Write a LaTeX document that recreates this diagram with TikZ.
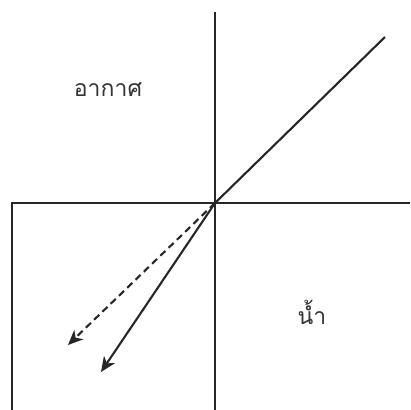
\documentclass[tikz,border=0pt]{standalone}
\usepackage{fontspec}
\newfontfamily\thaifont[Script=Thai]{Loma}
\usetikzlibrary{arrows.meta,positioning}

\begin{document}
\begin{tikzpicture}[
  x=1pt, y=-1pt,
  line/.style={line width=2.1pt, draw=black!85},
  ray/.style={-{Stealth[length=15pt,width=13pt,inset=4.5pt]}},
  label/.style={font=\thaifont\fontsize{23}{28}\selectfont, text=black!80, inner sep=0pt}
]
  \useasboundingbox (0,0) rectangle (410,410);
  \coordinate (O) at (215,203);
  \coordinate (top) at (215,12);
  \coordinate (bottom) at (215,410);
  \coordinate (left) at (12,203);
  \coordinate (leftdown) at (12,410);
  \coordinate (right) at (410,203);
  \coordinate (incident) at (385,37);
  \coordinate (reflect) at (68,345);
  \coordinate (refract) at (101,372);

  \node[label] (air) at (108,90) {อากาศ};
  \node[label] (water) at (312,312) {น้ำ};

  \draw[line] (top) -- (bottom);
  \draw[line] (leftdown) -- (left) -- (right);
  \draw[line] (incident) -- (O);
  \draw[line, ray, dash pattern=on 7pt off 4.5pt] (O) -- (reflect);
  \draw[line, ray] (O) -- (refract);
\end{tikzpicture}
\end{document}
